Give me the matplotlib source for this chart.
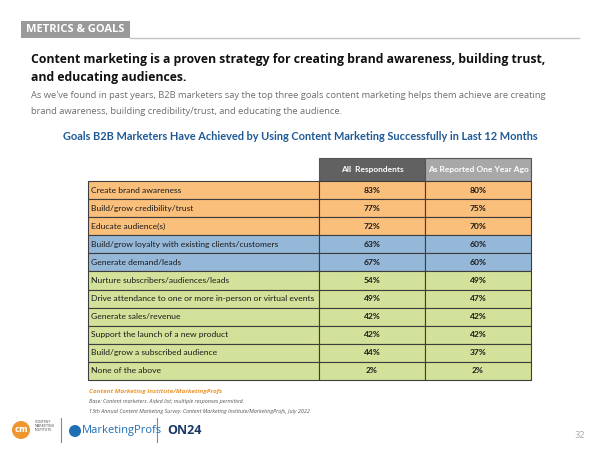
import matplotlib

matplotlib.use("Agg")
import matplotlib.pyplot as plt  # noqa: E402
from matplotlib.patches import Rectangle, Circle  # noqa: E402

GOALS = [
    "Create brand awareness",
    "Build/grow credibility/trust",
    "Educate audience(s)",
    "Build/grow loyalty with existing clients/customers",
    "Generate demand/leads",
    "Nurture subscribers/audiences/leads",
    "Drive attendance to one or more in-person or virtual events",
    "Generate sales/revenue",
    "Support the launch of a new product",
    "Build/grow a subscribed audience",
    "None of the above",
]
ALL_RESPONDENTS = [83, 77, 72, 63, 67, 54, 49, 42, 42, 44, 2]
ONE_YEAR_AGO = [80, 75, 70, 60, 60, 49, 47, 42, 42, 37, 2]
GROUP = ["top", "top", "top", "mid", "mid", "low", "low", "low", "low", "low", "low"]
COLUMNS = ["All  Respondents", "As Reported One Year Ago"]

GROUP_COLORS = {"top": "#fbbf7c", "mid": "#95b8d8", "low": "#d3e29a"}
HEADER_COLORS = ["#616161", "#a8a8a8"]
BLUE = "#1f5a96"
ORANGE = "#f0962e"
TEXT = "#1a1a1a"
GRAY_TEXT = "#6e6e6e"

fig = plt.figure(figsize=(6, 4.5), dpi=100)
ax = fig.add_axes([0, 0, 1, 1])
ax.set_xlim(0, 600)
ax.set_ylim(450, 0)
ax.axis("off")

# section tag + rule
ax.add_patch(Rectangle((21, 21), 109, 17, facecolor="#9a9a9a", edgecolor="none"))
ax.text(26, 30, "METRICS & GOALS", color="white", fontsize=8.0, fontweight="bold",
        family="Open Sans", va="center", ha="left")
ax.plot([130, 579], [38, 38], color="#c4c4c4", linewidth=1)

# headline
ax.text(31, 60, "Content marketing is a proven strategy for creating brand awareness, building trust,",
        fontsize=8.85, fontweight="bold", family="Open Sans", color="#111111", va="center")
ax.text(31, 77, "and educating audiences.",
        fontsize=8.85, fontweight="bold", family="Open Sans", color="#111111", va="center")
ax.text(31, 95, "As we've found in past years, B2B marketers say the top three goals content marketing helps them achieve are creating",
        fontsize=6.75, family="Open Sans", color=GRAY_TEXT, va="center")
ax.text(31, 111, "brand awareness, building credibility/trust, and educating the audience.",
        fontsize=6.75, family="Open Sans", color=GRAY_TEXT, va="center")

ax.text(300, 137, "Goals B2B Marketers Have Achieved by Using Content Marketing Successfully in Last 12 Months",
        fontsize=7.95, fontweight="bold", family="Lato", color=BLUE, ha="center", va="center")

# table geometry
x_edges = [88, 319, 425, 531]
header_top, header_bot = 158, 181
row_h = (380 - header_bot) / len(GOALS)

for j, label in enumerate(COLUMNS):
    x0, x1 = x_edges[j + 1], x_edges[j + 2]
    ax.add_patch(Rectangle((x0, header_top), x1 - x0, header_bot - header_top,
                           facecolor=HEADER_COLORS[j], edgecolor="#555555", linewidth=0.8))
    ax.text((x0 + x1) / 2, (header_top + header_bot) / 2, label, color="white",
            fontsize=6.0, fontweight="bold", family="Lato", ha="center", va="center")

for i, goal in enumerate(GOALS):
    y0 = header_bot + i * row_h
    bg = GROUP_COLORS[GROUP[i]]
    for j in range(3):
        x0, x1 = x_edges[j], x_edges[j + 1]
        ax.add_patch(Rectangle((x0, y0), x1 - x0, row_h, facecolor=bg,
                               edgecolor="#3d3d3d", linewidth=0.8))
    yc = y0 + row_h / 2
    ax.text(x_edges[0] + 3, yc, goal, fontsize=6.1, family="Lato", color=TEXT,
            ha="left", va="center")
    ax.text((x_edges[1] + x_edges[2]) / 2, yc, f"{ALL_RESPONDENTS[i]}%", fontsize=6.1,
            fontweight="bold", family="Lato", color=TEXT, ha="center", va="center")
    ax.text((x_edges[2] + x_edges[3]) / 2, yc, f"{ONE_YEAR_AGO[i]}%", fontsize=6.1,
            fontweight="bold", family="Lato", color=TEXT, ha="center", va="center")

# footnotes
ax.text(89, 392, "Content Marketing Institute/MarketingProfs", fontsize=4.6, fontweight="bold",
        style="italic", family="Open Sans", color=ORANGE, va="center")
ax.text(89, 401, "Base: Content marketers. Aided list; multiple responses permitted.", fontsize=3.9,
        style="italic", family="Open Sans", color="#555555", va="center")
ax.text(89, 411, "13th Annual Content Marketing Survey: Content Marketing Institute/MarketingProfs, July 2022",
        fontsize=3.9, style="italic", family="Open Sans", color="#555555", va="center")

# logos
ax.add_patch(Circle((21, 430), 9, facecolor="#f0962e", edgecolor="none"))
ax.text(21, 430, "cm", color="white", fontsize=6, fontweight="bold", ha="center", va="center")
ax.text(35, 426, "CONTENT\nMARKETING\nINSTITUTE", fontsize=2.4, color="#555555",
        va="center", linespacing=1.1)
ax.plot([61, 61], [418, 442], color="#888888", linewidth=0.8)
ax.add_patch(Circle((75, 431), 6, facecolor="#1f6fb5", edgecolor="none"))
ax.text(82, 431, "MarketingProfs", fontsize=8, color="#1f6fb5", va="center", family="Open Sans")
ax.plot([157, 157], [418, 442], color="#888888", linewidth=0.8)
ax.text(167, 431, "ON24", fontsize=9, color="#1a3a6b", fontweight="bold", va="center",
        family="Open Sans")

ax.text(580, 435, "32", fontsize=6, color="#aaaaaa", ha="center", va="center")

fig.savefig("out.png", facecolor="white")
